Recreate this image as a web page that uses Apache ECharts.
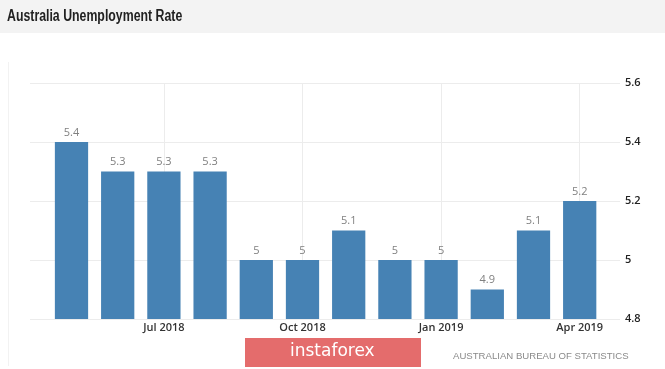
<!DOCTYPE html>
<html><head><meta charset="utf-8">
<script src="https://cdn.jsdelivr.net/npm/echarts@6/dist/echarts.min.js"></script>
<style>html,body{margin:0;padding:0;background:#fff}#c{width:665px;height:369px}</style>
</head><body><div id="c"></div>
<script>
const months = ['May 2018','Jun 2018','Jul 2018','Aug 2018','Sep 2018','Oct 2018','Nov 2018','Dec 2018','Jan 2019','Feb 2019','Mar 2019','Apr 2019'];
const rates = [5.4, 5.3, 5.3, 5.3, 5.0, 5.0, 5.1, 5.0, 5.0, 4.9, 5.1, 5.2];
const tickMonths = ['Jul 2018','Oct 2018','Jan 2019','Apr 2019'];
const yTicks = [4.8, 5.0, 5.2, 5.4, 5.6];

const chart = echarts.init(document.getElementById('c'), null, {renderer:'canvas'});
chart.setOption({
  animation:false,
  backgroundColor:'#fff',
  graphic:[
    {type:'rect', z:-10, shape:{x:0,y:0,width:665,height:33}, style:{fill:'#f3f3f3'}},
    {type:'text', x:7, y:17, scaleX:0.77, style:{text:'Australia Unemployment Rate', fill:'#222', font:"bold 16px 'Liberation Sans',sans-serif", textVerticalAlign:'middle'}},
    {type:'line', shape:{x1:8.5,y1:62,x2:8.5,y2:366}, style:{stroke:'#f2f2f2',lineWidth:1}},
    {type:'rect', shape:{x:245,y:338,width:176,height:29}, style:{fill:'#e46c6c'}},
    {type:'text', style:{x:290,y:352,text:'instaforex',fill:'#fff',font:"17px 'DejaVu Sans',sans-serif",textVerticalAlign:'middle'}},
    {type:'text', style:{x:453,y:356,text:'AUSTRALIAN BUREAU OF STATISTICS',fill:'#8a8a8a',font:"9.6px 'Liberation Sans',sans-serif",textVerticalAlign:'middle'}}
  ],
  grid:[
    {left:30, right:45, top:83, bottom:50},
    {left:48.4, right:62.2, top:83, bottom:50}
  ],
  xAxis:[
    {gridIndex:0, type:'value', min:0, max:1, show:false},
    {gridIndex:1, type:'category', data:months, boundaryGap:true,
      axisLine:{show:false}, axisTick:{show:false}, splitLine:{show:false},
      axisLabel:{interval:(i,v)=>tickMonths.indexOf(v)>=0, margin:3, color:'#333', fontSize:11, fontWeight:600, fontFamily:"'Open Sans',sans-serif"}}
  ],
  yAxis:[
    {gridIndex:0, type:'value', position:'right', min:yTicks[0], max:yTicks[yTicks.length-1], interval:0.2,
      axisLine:{show:false}, axisTick:{show:false},
      splitLine:{lineStyle:{color:'#ececec'}},
      axisLabel:{margin:5, color:'#222', fontSize:11, fontWeight:600, fontFamily:"'Open Sans',sans-serif", formatter:v=>String(+v.toFixed(1))}},
    {gridIndex:1, type:'value', min:yTicks[0], max:yTicks[yTicks.length-1], show:false}
  ],
  series:[
    {type:'line', xAxisIndex:1, yAxisIndex:1, data:[], z:1,
      markLine:{silent:true, symbol:'none', z:1, label:{show:false}, lineStyle:{color:'#ececec', type:'solid', width:1},
        data:tickMonths.map(m=>({xAxis:m}))}},
    {type:'bar', xAxisIndex:1, yAxisIndex:1, data:rates, barWidth:'72%', z:5,
      itemStyle:{color:'#4682b4'},
      label:{show:true, position:'top', distance:4, color:'#808080', fontSize:11, fontFamily:"'Open Sans',sans-serif", formatter:p=>String(p.value)}}
  ]
});
</script></body></html>
